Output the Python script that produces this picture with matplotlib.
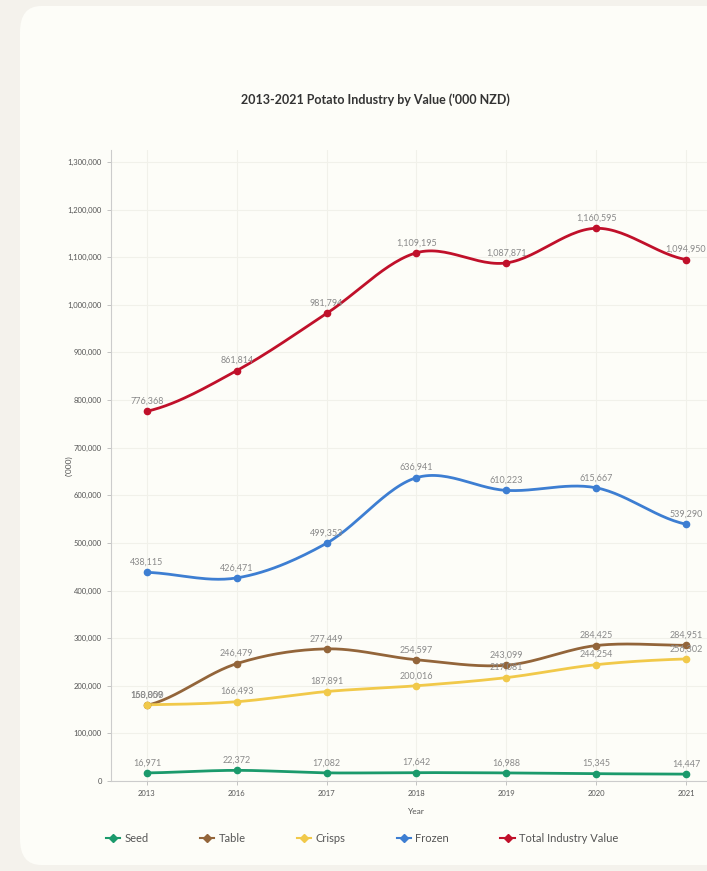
import numpy as np
import matplotlib.pyplot as plt
from matplotlib.patches import FancyBboxPatch

plt.rcParams['font.family'] = ['Lato', 'DejaVu Sans']

# datos
years = ['2013', '2016', '2017', '2018', '2019', '2020', '2021']
seed = [16971, 22372, 17082, 17642, 16988, 15345, 14447]
table = [158859, 246479, 277449, 254597, 243099, 284425, 284951]
crisps = [160000, 166493, 187891, 200016, 217081, 244254, 256302]
frozen = [438115, 426471, 499353, 636941, 610223, 615667, 539290]
total = [776368, 861814, 981794, 1109195, 1087871, 1160595, 1094950]

series = [
    ('Seed', seed, '#1b9a6c'),
    ('Table', table, '#93653a'),
    ('Crisps', crisps, '#f1c94a'),
    ('Frozen', frozen, '#3d7ed2'),
    ('Total Industry Value', total, '#c0102a'),
]


def suavizar(x, y, n=30):
    # curva tipo spline (Catmull-Rom) que pasa por los puntos
    x = np.asarray(x, float)
    y = np.asarray(y, float)
    px = np.concatenate([[2 * x[0] - x[1]], x, [2 * x[-1] - x[-2]]])
    py = np.concatenate([[y[0]], y, [y[-1]]])
    xs, ys = [], []
    for i in range(1, len(px) - 2):
        t = np.linspace(0, 1, n)
        for arr, out in ((px, xs), (py, ys)):
            p0, p1, p2, p3 = arr[i - 1], arr[i], arr[i + 1], arr[i + 2]
            out.append(0.5 * ((2 * p1) + (-p0 + p2) * t
                              + (2 * p0 - 5 * p1 + 4 * p2 - p3) * t ** 2
                              + (-p0 + 3 * p1 - 3 * p2 + p3) * t ** 3))
    return np.concatenate(xs), np.concatenate(ys)


fig = plt.figure(figsize=(7.07, 8.71), dpi=100)
fig.patch.set_facecolor('#f4f2ec')
card = FancyBboxPatch((20 / 707, 6 / 871), 1.0, 1.0 - 12 / 871,
                      boxstyle='round,pad=0,rounding_size=0.03',
                      transform=fig.transFigure, facecolor='#fdfdf8',
                      edgecolor='none', zorder=-10)
fig.patches.append(card)

ax = fig.add_axes([111 / 707, 1 - 781 / 871, 611 / 707, 631 / 871])
ax.set_facecolor('none')
ax.set_zorder(1)

x = np.arange(len(years))
for nombre, vals, color in series:
    sx, sy = suavizar(x, vals)
    ax.plot(sx, sy, color=color, lw=2, zorder=3)
    ax.plot(x, vals, 'o', color=color, ms=4.5, zorder=4)
    for xi, v in zip(x, vals):
        ax.annotate(f'{v:,}', (xi, v), xytext=(0, 4), textcoords='offset points',
                    ha='center', va='bottom', fontsize=6.5, color='#8a8a8a', zorder=5)

ax.set_xlim(-0.4, 6.4)
ax.set_ylim(0, 1325000)
ax.set_xticks(x)
ax.set_xticklabels(years)
ax.set_yticks(np.arange(0, 1300001, 100000))
ax.set_yticklabels([f'{v:,}' for v in range(0, 1300001, 100000)])
ax.tick_params(labelsize=5.5, labelcolor='#555555', color='#bbbbbb', length=3, width=0.6)
ax.grid(True, color='#f1f1ea', lw=0.8)
ax.set_axisbelow(True)
for s in ['top', 'right']:
    ax.spines[s].set_visible(False)
for s in ['left', 'bottom']:
    ax.spines[s].set_color('#cccccc')
    ax.spines[s].set_linewidth(0.8)

ax.set_xlabel('Year', fontsize=6, color='#555555', labelpad=8)
ax.set_ylabel("('000)", fontsize=6, color='#555555', labelpad=2)
ax.yaxis.set_label_coords(-70 / 611 * 0.55, 0.5)

fig.text(375 / 707, 1 - 100 / 871, "2013-2021 Potato Industry by Value ('000 NZD)",
         ha='center', va='center', fontsize=9, fontweight='bold', color='#333333')

# leyenda
hs = []
for nombre, vals, color in series:
    h, = ax.plot([], [], color=color, lw=1.5, marker='D', ms=4, label=nombre)
    hs.append(h)
fig.legend(handles=hs, loc='center', bbox_to_anchor=(362 / 707, 1 - 838 / 871),
           ncol=5, frameon=False, fontsize=8, labelcolor='#555555',
           handlelength=1.3, columnspacing=4.6, handletextpad=0.4)

fig.savefig('out.png', dpi=100, facecolor=fig.get_facecolor())
